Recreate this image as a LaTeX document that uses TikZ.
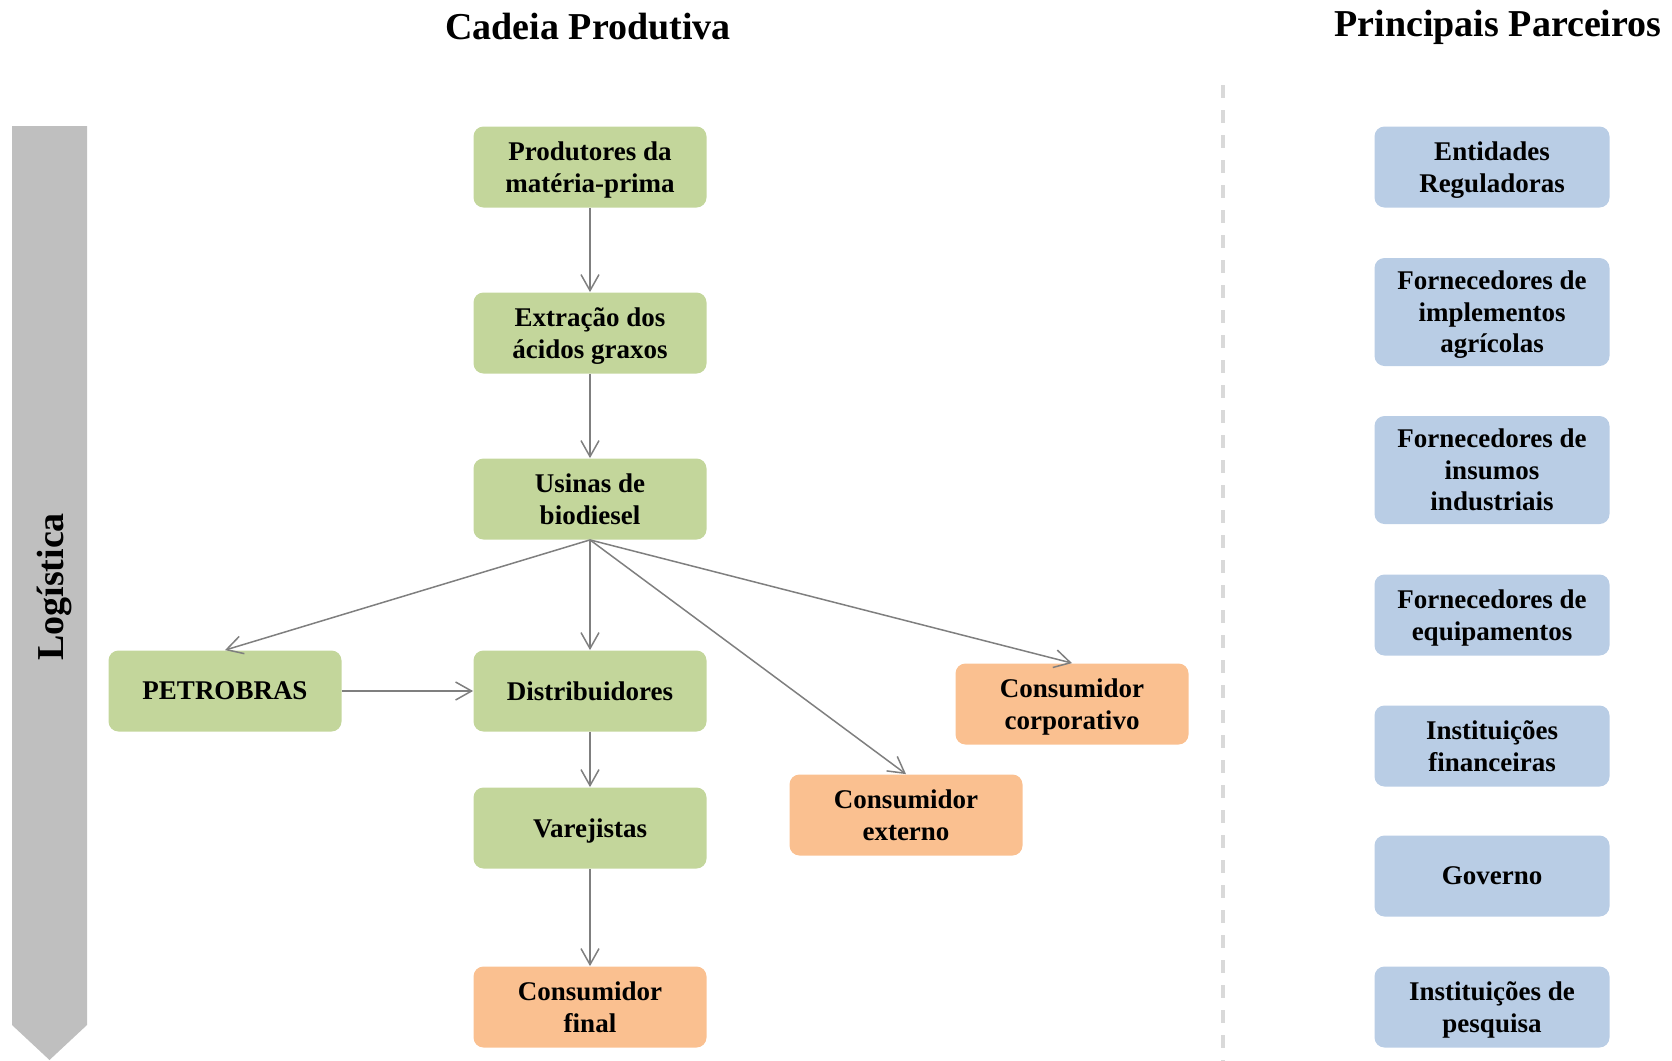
\documentclass[tikz,border=0pt]{standalone}
\usepackage{fontspec}
\setmainfont{Liberation Serif}
\usetikzlibrary{positioning, arrows.meta}
\definecolor{cadeiaverde}{HTML}{C3D69B}
\definecolor{consumolaranja}{HTML}{FAC090}
\definecolor{parceiroazul}{HTML}{B9CDE5}
\definecolor{logcinza}{HTML}{BFBFBF}
\definecolor{setacinza}{HTML}{7F7F7F}
\definecolor{divcinza}{HTML}{D9D9D9}

\begin{document}
\begin{tikzpicture}[x=0.5pt, y=-0.5pt, on grid, >={Straight Barb[length=8pt,width=9pt]},
    box/.style={rounded corners=5pt, minimum width=116.5pt, minimum height=40.5pt, inner sep=2pt, text depth=0pt, align=center, font=\fontsize{13.5}{15.8}\selectfont\bfseries},
    elo/.style={box, fill=cadeiaverde},
    consumidor/.style={box, fill=consumolaranja},
    parceiro/.style={box, fill=parceiroazul, minimum width=117.5pt},
    titulo/.style={font=\fontsize{19}{22}\selectfont\bfseries},
    ligacao/.style={->, color=setacinza, line width=0.75pt}]
        \useasboundingbox (0,0) rectangle (1672,1061);

        % titulos
        \node[titulo] (tcadeia) at (588,27) {Cadeia Produtiva};
        \node[titulo] (tparceiros) at (1498,27) {Principais Parceiros};

        % logistica
        \fill[logcinza] (12,126) -- (87,126) -- (87,1025) -- (49.5,1060) -- (12,1025) -- cycle;
        \node[titulo, rotate=90] (logistica) at (54,587) {Logística};

        % divisoria
        \draw[divcinza, line width=1.6pt, dash pattern=on 6.5pt off 6pt] (1223,85) -- (1223,1061);

        % cadeia produtiva
        \node[elo] (produtores) at (590,167) {Produtores da\\matéria-prima};
        \node[elo, below=83pt of produtores] (extracao) {Extração dos\\ácidos graxos};
        \node[elo, below=83pt of extracao] (usinas) {Usinas de\\biodiesel};
        \node[elo, below=96pt of usinas] (distribuidores) {Distribuidores};
        \node[elo, below=68.5pt of distribuidores] (varejistas) {Varejistas};
        \node[consumidor, below=89.5pt of varejistas] (final) {Consumidor\\final};
        \node[elo, left=182.5pt of distribuidores] (petrobras) {PETROBRAS};
        \node[consumidor] (externo) at (906,815) {Consumidor\\externo};
        \node[consumidor] (corporativo) at (1072,704) {Consumidor\\corporativo};

        % parceiros
        \node[parceiro] (entidades) at (1492,167) {Entidades\\Reguladoras};
        \node[parceiro, minimum height=54pt] (implementos) at (1492,312) {Fornecedores de\\implementos\\agrícolas};
        \node[parceiro, minimum height=54pt] (insumos) at (1492,470) {Fornecedores de\\insumos\\industriais};
        \node[parceiro] (equipamentos) at (1492,615) {Fornecedores de\\equipamentos};
        \node[parceiro] (financeiras) at (1492,746) {Instituições\\financeiras};
        \node[parceiro] (governo) at (1492,876) {Governo};
        \node[parceiro] (pesquisa) at (1492,1007) {Instituições de\\pesquisa};

        \path[ligacao]
        (produtores) edge (extracao)
        (extracao) edge (usinas)
        (usinas.south) edge (petrobras.north)
        edge (distribuidores.north)
        edge (externo.north)
        edge (corporativo.north)
        (petrobras) edge (distribuidores)
        (distribuidores) edge (varejistas)
        (varejistas) edge (final);
    \end{tikzpicture}
\end{document}
